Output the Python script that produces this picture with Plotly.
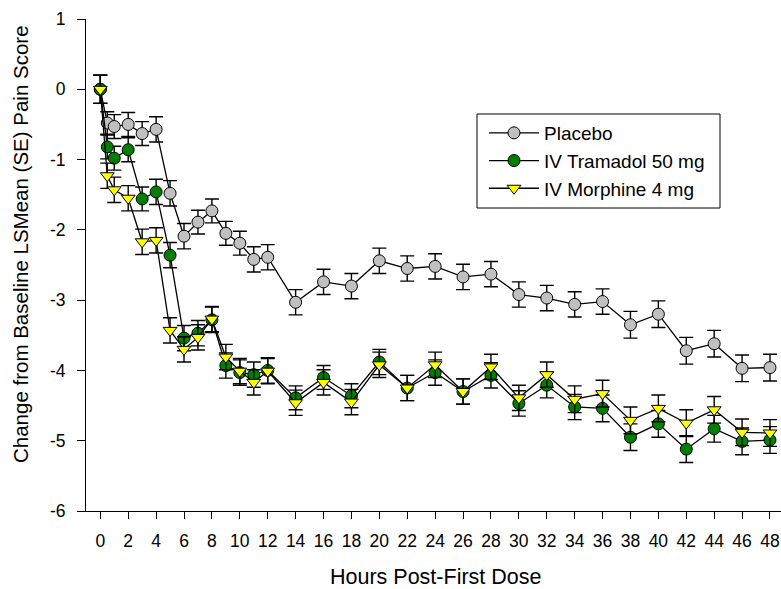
import plotly.graph_objects as go

hours = [0, 0.5, 1, 2, 3, 4, 5, 6, 7, 8, 9, 10, 11, 12,
         14, 16, 18, 20, 22, 24, 26, 28, 30, 32, 34, 36, 38, 40, 42, 44, 46, 48]

placebo = [0, -0.48, -0.53, -0.50, -0.63, -0.57, -1.48, -2.09, -1.89, -1.73, -2.05, -2.19, -2.42, -2.39,
           -3.03, -2.74, -2.80, -2.44, -2.55, -2.52, -2.67, -2.63, -2.92, -2.97, -3.06, -3.02,
           -3.35, -3.20, -3.72, -3.62, -3.97, -3.96]
placebo_se = [0.20, 0.16, 0.17, 0.17, 0.17, 0.18, 0.18, 0.18, 0.17, 0.17, 0.17, 0.17, 0.18, 0.18,
              0.18, 0.18, 0.18, 0.18, 0.18, 0.18, 0.18, 0.18, 0.18, 0.18, 0.18, 0.18,
              0.19, 0.19, 0.19, 0.19, 0.19, 0.19]

tramadol = [0, -0.82, -0.98, -0.86, -1.56, -1.46, -2.36, -3.54, -3.47, -3.28, -3.93, -4.03, -4.06, -4.00,
            -4.39, -4.10, -4.36, -3.88, -4.25, -4.03, -4.30, -4.07, -4.47, -4.21, -4.52, -4.54,
            -4.95, -4.76, -5.12, -4.83, -5.01, -4.99]
tramadol_se = [0.20, 0.17, 0.17, 0.17, 0.17, 0.18, 0.18, 0.18, 0.18, 0.18, 0.18, 0.18, 0.18, 0.18,
               0.17, 0.17, 0.17, 0.18, 0.18, 0.18, 0.18, 0.18, 0.18, 0.18, 0.18, 0.19,
               0.19, 0.19, 0.19, 0.19, 0.19, 0.19]

morphine = [0, -1.23, -1.43, -1.55, -2.17, -2.15, -3.43, -3.70, -3.53, -3.27, -3.81, -4.01, -4.17, -4.01,
            -4.46, -4.17, -4.45, -3.92, -4.25, -3.92, -4.30, -3.95, -4.39, -4.06, -4.41, -4.33,
            -4.71, -4.54, -4.75, -4.56, -4.88, -4.89]
morphine_se = [0.20, 0.18, 0.18, 0.18, 0.18, 0.18, 0.18, 0.18, 0.18, 0.18, 0.18, 0.18, 0.18, 0.18,
               0.18, 0.18, 0.18, 0.18, 0.18, 0.18, 0.18, 0.18, 0.18, 0.18, 0.19, 0.19,
               0.19, 0.19, 0.19, 0.19, 0.19, 0.19]

names = ["Placebo", "IV Tramadol 50 mg", "IV Morphine 4 mg"]

x_tickvals = list(range(0, 50, 2))
x_ticktext = [str(v) for v in x_tickvals]
y_tickvals = [1, 0, -1, -2, -3, -4, -5, -6]
y_ticktext = ["1", "0", "-1", "-2", "-3", "-4", "-5", "-6"]

FONT = "Liberation Sans, Arial, sans-serif"

L, R, T, B = 86, 0, 19, 78
W, H = 781, 589
PW, PH = W - L - R, H - T - B


def px_x(p):
    return (p - L) / PW


def px_y(p):
    return ((H - B) - p) / PH


fig = go.Figure()

series = [
    (placebo, placebo_se, names[0], "#c0c0c0", "circle"),
    (tramadol, tramadol_se, names[1], "#007f00", "circle"),
    (morphine, morphine_se, names[2], "#ffff00", "triangle-down"),
]
for vals, se, name, color, sym in series:
    fig.add_trace(go.Scatter(
        x=hours, y=vals, name=name, mode="lines+markers",
        line=dict(color="black", width=1.3),
        marker=dict(symbol=sym, size=12, color=color, line=dict(color="black", width=1)),
        error_y=dict(type="data", array=se, visible=True, color="black", thickness=1.4, width=7),
    ))

fig.update_layout(
    width=W, height=H,
    margin=dict(l=L, r=R, t=T, b=B, pad=0),
    paper_bgcolor="white", plot_bgcolor="white",
    font=dict(family=FONT, size=16, color="black"),
    showlegend=True,
    legend=dict(
        x=px_x(484), y=px_y(161), xanchor="left", yanchor="middle",
        borderwidth=0, bgcolor="rgba(0,0,0,0)",
        font=dict(family=FONT, size=19, color="black"),
        itemwidth=50,
        tracegroupgap=0,
    ),
    shapes=[
        dict(type="rect", xref="paper", yref="paper",
             x0=px_x(477), x1=px_x(720), y0=px_y(208), y1=px_y(114),
             line=dict(color="black", width=1), fillcolor="white", layer="below"),
    ],
    xaxis=dict(
        range=[-1.025, 48.79], tickvals=x_tickvals, ticktext=x_ticktext,
        showgrid=False, zeroline=False, showline=True, linecolor="black", linewidth=1,
        ticks="outside", ticklen=7, tickcolor="black", tickwidth=1,
        ticklabelstandoff=7,
        tickfont=dict(family=FONT, size=17.5, color="black"),
    ),
    yaxis=dict(
        range=[-6, 1], tickvals=y_tickvals, ticktext=y_ticktext,
        showgrid=False, zeroline=False, showline=True, linecolor="black", linewidth=1,
        ticks="outside", ticklen=8, tickcolor="black", tickwidth=1,
        ticklabelstandoff=8,
        tickfont=dict(family=FONT, size=17.5, color="black"),
    ),
    annotations=[
        dict(text="Hours Post-First Dose", xref="paper", yref="paper",
             x=px_x(435), y=px_y(577), xanchor="center", yanchor="middle",
             showarrow=False, font=dict(family=FONT, size=21.5, color="black")),
        dict(text="Change from Baseline LSMean (SE) Pain Score", xref="paper", yref="paper",
             x=px_x(21), y=px_y(244), xanchor="center", yanchor="middle",
             textangle=-90, showarrow=False, font=dict(family=FONT, size=20.5, color="black")),
    ],
)

fig.write_html("out.html")
